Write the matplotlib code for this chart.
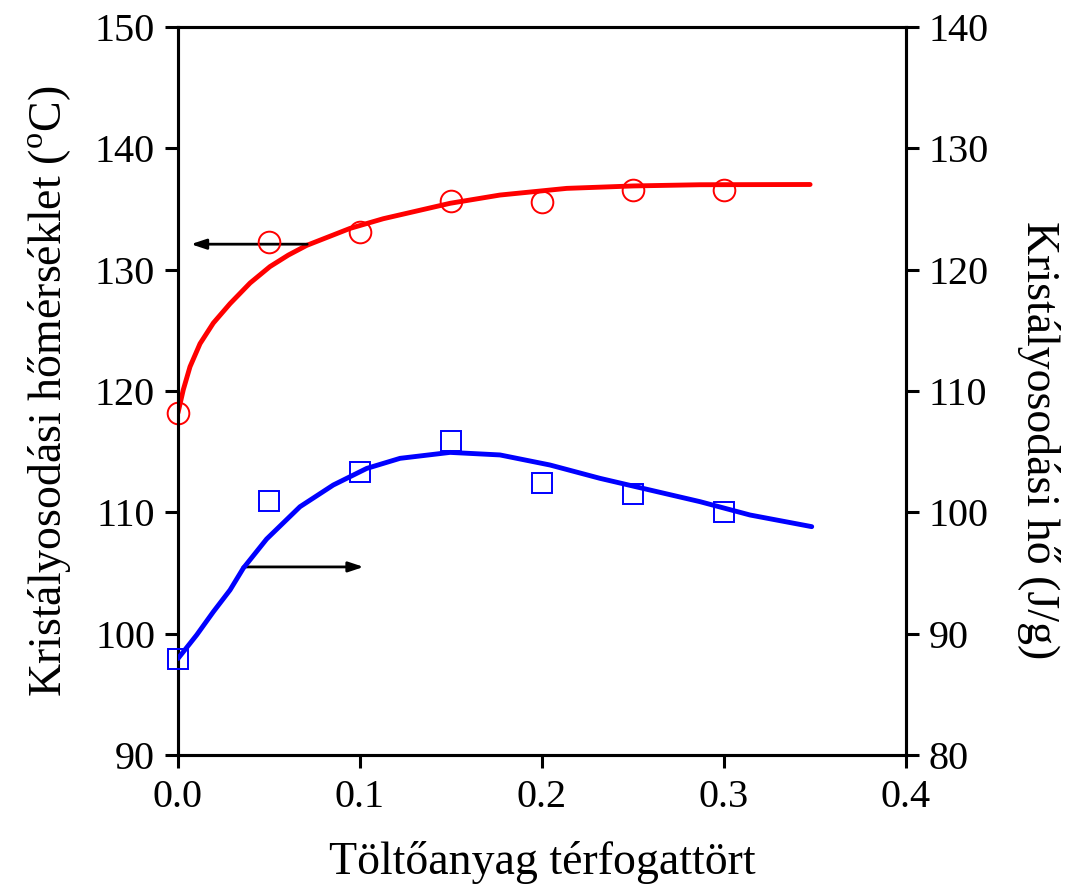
import numpy as np
import matplotlib
matplotlib.use('Agg')
import matplotlib.pyplot as plt

plt.rcParams['font.family'] = ['Liberation Serif', 'DejaVu Serif']
plt.rcParams['mathtext.fontset'] = 'custom'
plt.rcParams['mathtext.rm'] = 'Liberation Serif'

# mért pontok
x_meres = [0.0, 0.05, 0.10, 0.15, 0.20, 0.25, 0.30]
T_kr = [118.2, 132.3, 133.1, 135.7, 135.6, 136.6, 136.6]
H_kr = [87.9, 100.9, 103.3, 105.9, 102.4, 101.5, 100.0]

# illesztett görbék
x_T = [0.0, 0.0029, 0.0066, 0.0121, 0.0194, 0.0286, 0.0396, 0.0505, 0.0606,
       0.0707, 0.0945, 0.1128, 0.1495, 0.1769, 0.2136, 0.2502, 0.2868, 0.3473]
T_fit = [118.2, 120.1, 122.0, 123.9, 125.6, 127.2, 128.9, 130.25, 131.2,
         132.0, 133.4, 134.2, 135.47, 136.15, 136.7, 136.9, 137.0, 137.02]
x_H = [0.0, 0.0103, 0.0194, 0.0286, 0.0359, 0.0487, 0.067, 0.0853, 0.1037,
       0.122, 0.1495, 0.1769, 0.2044, 0.2319, 0.2593, 0.2868, 0.3143, 0.3482]
H_fit = [87.95, 89.9, 91.8, 93.6, 95.4, 97.8, 100.46, 102.25, 103.62,
         104.45, 104.94, 104.73, 103.9, 102.8, 101.84, 100.88, 99.78, 98.82]

fig = plt.figure(figsize=(10.68, 8.9), dpi=100)
ax = fig.add_axes([178/1068, 1 - 755/890, 728/1068, 728/890])
ax2 = ax.twinx()

ax.plot(x_T, T_fit, color='#ff0000', lw=3.5, zorder=3,
        solid_joinstyle='round', solid_capstyle='round')
ax.plot(x_meres, T_kr, 'o', ms=15.6, mfc='none', mec='#ff0000', mew=1.4,
        clip_on=False, zorder=4)
ax2.plot(x_H, H_fit, color='#0000ff', lw=3.5, zorder=3,
         solid_joinstyle='round', solid_capstyle='round')
ax2.plot(x_meres, H_kr, 's', ms=14, mfc='none', mec='#0000ff', mew=1.4,
         clip_on=False, zorder=4)

# nyilak a tengelyekhez
nyil = dict(arrowstyle='-|>,head_length=0.9,head_width=0.3',
            color='black', lw=2, shrinkA=0, shrinkB=0)
ax.annotate('', xy=(0.0071, 132.1), xytext=(0.071, 132.1), arrowprops=nyil)
ax.annotate('', xy=(0.102, 105.5), xytext=(0.0357, 105.5), arrowprops=nyil)

ax.set_xlim(0, 0.4)
ax.set_ylim(90, 150)
ax2.set_ylim(80, 140)
ax.set_xticks([0.0, 0.1, 0.2, 0.3, 0.4])
ax.set_xticklabels(['0.0', '0.1', '0.2', '0.3', '0.4'])
ax.set_yticks(np.arange(90, 151, 10))
ax2.set_yticks(np.arange(80, 141, 10))

for a in (ax, ax2):
    for s in a.spines.values():
        s.set_linewidth(2.2)
    a.tick_params(direction='out', length=9.5, width=2.2, labelsize=29, pad=7)
ax.tick_params(axis='x', pad=8)

ax.set_xlabel('Töltőanyag térfogattört', fontsize=33, labelpad=18)
ax.set_ylabel(r'Kristályosodási hőmérséklet ($^{\rm o}$C)', fontsize=33, labelpad=16)
ax2.set_ylabel('Kristályosodási hő (J/g)', fontsize=33, rotation=270)
ax2.yaxis.set_label_coords(1.212, 0.433)

fig.savefig('out.png', dpi=100)
